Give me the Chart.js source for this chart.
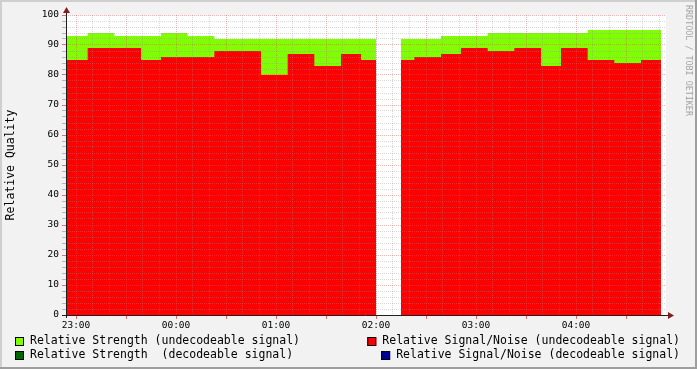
<html>
<head>
<style>
  body { margin: 0; background: #f2f2f2; }
  #wrap { width: 697px; height: 369px; }
</style>
</head>
<body>
<div id="wrap"><canvas id="quality" width="697" height="369"></canvas></div>

<script src="https://cdn.jsdelivr.net/npm/chart.js@4.4.0/dist/chart.umd.min.js"></script>
<script>
// time is in minutes after 23:00; each value holds from times[i] to times[i+1]
const strengthTimes  = [-6, 7, 23, 51, 67, 83, 180, 195, 219, 247, 307, 351];
const strengthValues = [93, 94, 93, 94, 93, 92, null, 92, 93, 94, 95];

const snrTimes  = [-6, 7, 39, 51, 83, 111, 127, 143, 159, 171, 180, 195, 203, 219, 231, 247, 263, 279, 291, 307, 323, 339, 351];
const snrValues = [85, 89, 85, 86, 88, 80, 87, 83, 87, 85, null, 85, 86, 87, 89, 88, 89, 83, 89, 85, 84, 85];

const startHour = 23;
const xMin = -6, xMax = 354;
const gridMinutes = [];
for (let m = 0; m <= 350; m += 10) gridMinutes.push(m);
const gridValues = [];
for (let v = 0; v <= 100; v += 2) gridValues.push(v);

const monoFont = 'DejaVu Sans Mono';

function toPoints(times, values) {
  let pts = [];
  for (let i = 0; i < values.length; i++) {
    if (values[i] === null) {
      pts.push({x: (times[i] + times[i+1]) / 2, y: null});
    } else {
      pts.push({x: times[i], y: values[i]});
      pts.push({x: times[i+1], y: values[i]});
    }
  }
  return pts;
}

function hourLabel(v) {
  let h = (startHour + v / 60) % 24;
  return (h < 10 ? '0' : '') + h + ':00';
}

const datasets = [
  { label: 'Relative Signal/Noise (undecodeable signal)', data: toPoints(snrTimes, snrValues),
    backgroundColor: '#ff0000', borderColor: '#ff0000', fill: 'origin', order: 0 },
  { label: 'Relative Strength (undecodeable signal)', data: toPoints(strengthTimes, strengthValues),
    backgroundColor: '#80ff00', borderColor: '#80ff00', fill: 'origin', order: 1 },
  { label: 'Relative Strength  (decodeable signal)', data: [],
    backgroundColor: '#006600', borderColor: '#006600', fill: 'origin', order: 2 },
  { label: 'Relative Signal/Noise (decodeable signal)', data: [],
    backgroundColor: '#000099', borderColor: '#000099', fill: 'origin', order: 3 }
];

const rrdDecor = {
  id: 'rrdDecor',
  beforeDraw(chart) {
    const ctx = chart.ctx, a = chart.chartArea;
    ctx.save();
    ctx.fillStyle = '#f2f2f2';
    ctx.fillRect(0, 0, 697, 369);
    // shaded frame
    ctx.fillStyle = '#cfcfcf';
    ctx.fillRect(0, 0, 697, 2);
    ctx.fillRect(0, 0, 2, 369);
    ctx.fillStyle = '#9e9e9e';
    ctx.fillRect(0, 367, 697, 2);
    ctx.fillRect(695, 0, 2, 369);
    ctx.fillStyle = '#ffffff';
    ctx.fillRect(a.left, a.top, a.right - a.left, a.bottom - a.top);
    ctx.restore();
  },
  afterDraw(chart) {
    const ctx = chart.ctx, a = chart.chartArea;
    ctx.save();
    // axes
    ctx.strokeStyle = '#1f1f1f';
    ctx.lineWidth = 1;
    ctx.beginPath();
    ctx.moveTo(a.left + 0.5, a.bottom + 3);
    ctx.lineTo(a.left + 0.5, 11);
    ctx.moveTo(a.left - 4, a.bottom + 0.5);
    ctx.lineTo(a.right + 3, a.bottom + 0.5);
    ctx.stroke();
    ctx.fillStyle = '#801f1f';
    ctx.beginPath();
    ctx.moveTo(a.left + 0.5, 7);
    ctx.lineTo(a.left - 3, 13);
    ctx.lineTo(a.left + 4, 13);
    ctx.closePath();
    ctx.fill();
    ctx.beginPath();
    ctx.moveTo(a.right + 8, a.bottom + 0.5);
    ctx.lineTo(a.right + 2, a.bottom - 3);
    ctx.lineTo(a.right + 2, a.bottom + 4);
    ctx.closePath();
    ctx.fill();

    // y title
    ctx.fillStyle = '#000';
    ctx.font = '11.5px "' + monoFont + '"';
    ctx.textAlign = 'center';
    ctx.textBaseline = 'middle';
    ctx.save();
    ctx.translate(11, (a.top + a.bottom) / 2);
    ctx.rotate(-Math.PI / 2);
    ctx.fillText('Relative Quality', 0, 0);
    ctx.restore();

    // watermark
    ctx.save();
    ctx.fillStyle = 'rgba(0,0,0,0.35)';
    ctx.font = '8.4px "' + monoFont + '"';
    ctx.textAlign = 'left';
    ctx.translate(688, 5);
    ctx.rotate(Math.PI / 2);
    ctx.fillText('RRDTOOL / TOBI OETIKER', 0, 0);
    ctx.restore();

    // legend
    const ds = chart.data.datasets;
    function entry(d, boxX, textX, y, align) {
      ctx.fillStyle = d.backgroundColor;
      ctx.fillRect(boxX, y - 4, 9, 9);
      ctx.strokeStyle = '#000';
      ctx.strokeRect(boxX + 0.5, y - 3.5, 8, 8);
      ctx.fillStyle = '#000';
      ctx.textAlign = align;
      ctx.fillText(d.label, textX, y + 0.5);
    }
    ctx.font = '11.5px "' + monoFont + '"';
    entry(ds[1], 15, 30, 341, 'left');
    entry(ds[2], 15, 30, 355, 'left');
    const right = 680;
    let w0 = ctx.measureText(ds[0].label).width;
    let w3 = ctx.measureText(ds[3].label).width;
    entry(ds[0], right - w0 - 15, right, 341, 'right');
    entry(ds[3], right - w3 - 15, right, 355, 'right');
    ctx.restore();
  }
};

new Chart(document.getElementById('quality'), {
  type: 'line',
  data: { datasets: datasets },
  options: {
    responsive: false,
    animation: false,
    layout: { padding: { left: 0, right: 31, top: 15, bottom: 0 } },
    elements: { point: { radius: 0 }, line: { borderWidth: 0, tension: 0 } },
    plugins: { legend: { display: false }, tooltip: { enabled: false } },
    scales: {
      x: {
        type: 'linear', min: xMin, max: xMax,
        afterFit: function(axis) { axis.height = 54; },
        afterBuildTicks: function(axis) { axis.ticks = gridMinutes.map(v => ({value: v})); },
        border: { display: false, dash: [1, 1] },
        grid: {
          z: 1, tickLength: 4,
          color: c => (c.tick && c.tick.value % 30 === 0) ? 'rgba(222,79,79,0.42)' : 'rgba(143,143,143,0.35)',
          tickColor: c => (c.tick && c.tick.value % 30 === 0) ? 'rgba(222,79,79,0.8)' : 'rgba(0,0,0,0)'
        },
        ticks: {
          autoSkip: false, maxRotation: 0, padding: 1, color: '#000',
          font: { family: monoFont, size: 9.5 },
          callback: v => (v % 60 === 0) ? hourLabel(v) : ''
        }
      },
      y: {
        min: 0, max: 100,
        afterFit: function(axis) { axis.width = 66; },
        afterBuildTicks: function(axis) { axis.ticks = gridValues.map(v => ({value: v})); },
        border: { display: false, dash: [1, 1] },
        grid: {
          z: 1, tickLength: 4,
          color: c => (c.tick && c.tick.value % 10 === 0) ? 'rgba(222,79,79,0.42)' : 'rgba(143,143,143,0.35)',
          tickColor: c => (c.tick && c.tick.value % 10 === 0) ? 'rgba(222,79,79,0.8)' : 'rgba(143,143,143,0.6)'
        },
        ticks: {
          autoSkip: false, padding: 3, color: '#000',
          font: { family: monoFont, size: 9.5 },
          callback: v => (v % 10 === 0) ? v : ''
        }
      }
    }
  },
  plugins: [rrdDecor]
});
</script>
</body>
</html>
